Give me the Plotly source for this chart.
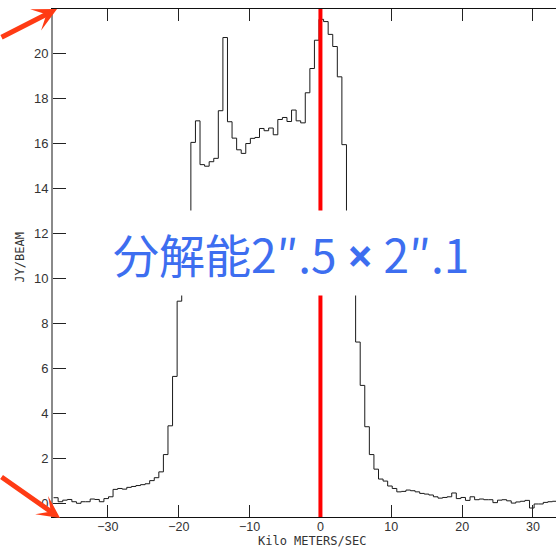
import numpy as np
import plotly.graph_objects as go

# Spectral axis: first channel edge and channel width (km/s)
V_START = -37.67
CHAN_WIDTH = 0.646
V_SYS = 0.0  # systemic velocity marker

# Flux density per channel (Jy/beam)
flux = [
    0.24, 0.06, 0.13, 0.16, 0.06, -0.01, 0.06, 0.06, 0.18, 0.16,
    0.06, 0.20, 0.28, 0.61, 0.65, 0.62, 0.70, 0.74, 0.78, 0.82,
    0.86, 1.00, 1.13, 1.39, 2.16, 3.44, 5.64, 8.99, 10.9, 12.9,
    16.06, 17.02, 15.07, 15.00, 15.20, 15.35, 17.47, 20.73, 16.98, 16.25,
    15.73, 15.57, 16.01, 16.24, 16.28, 16.68, 16.58, 16.70, 16.40, 17.08,
    17.17, 16.99, 17.50, 17.02, 16.93, 18.27, 19.35, 20.61, 21.54, 21.44,
    20.87, 20.33, 18.98, 15.96, 12.0, 10.2, 7.17, 5.24, 3.40, 2.16,
    1.51, 1.07, 0.98, 0.76, 0.65, 0.50, 0.52, 0.58, 0.55, 0.50,
    0.43, 0.40, 0.36, 0.28, 0.22, 0.25, 0.28, 0.45, 0.20, 0.25,
    0.12, 0.28, 0.15, 0.18, 0.15, 0.15, 0.02, 0.13, 0.15, 0.10,
    0.00, 0.05, 0.08, 0.12, -0.22, -0.04, -0.04, 0.03, 0.06, 0.08,
    0.10,
]

x_ticks = [-30, -20, -10, 0, 10, 20, 30]
y_ticks = [0, 2, 4, 6, 8, 10, 12, 14, 16, 18, 20]

x_title = "Kilo METERS/SEC"
y_title = "JY/BEAM"

# Beam size label; the multiplication sign is set in a bolder Latin face
label_text = ('分解能2″.5 <span style="font-family:Noto Sans"><b>×</b></span> 2″.1')

# Step outline: left channel edges plus the closing edge of the last channel
edges = V_START + CHAN_WIDTH * np.arange(len(flux) + 1)
steps = list(flux) + [flux[-1]]

fig = go.Figure()
fig.add_trace(go.Scatter(
    x=edges, y=steps, mode="lines",
    line=dict(shape="hv", color="#1a1a1a", width=1),
    showlegend=False, hoverinfo="skip",
))

# Systemic velocity marker
fig.add_shape(
    type="line", xref="x", yref="paper",
    x0=V_SYS, x1=V_SYS, y0=0, y1=1,
    line=dict(color="#FF0000", width=4), layer="above",
)

# Resolution label on a white box
fig.add_annotation(
    xref="paper", yref="paper", x=0.474, y=0.52,
    text=label_text, showarrow=False,
    font=dict(family="Noto Sans CJK JP", size=46, color="#3D6EF0"),
    bgcolor="white", borderpad=9,
    xanchor="center", yanchor="middle",
)

# Axis titles
title_font = dict(family="DejaVu Sans Mono", size=12, color="#333333")
fig.add_annotation(
    xref="paper", yref="paper", x=0.514, y=-0.0465,
    text=x_title, showarrow=False, font=title_font,
    xanchor="center", yanchor="middle",
)
fig.add_annotation(
    xref="paper", yref="paper", x=-0.066, y=0.512,
    text=y_title, showarrow=False, font=title_font, textangle=-90,
    xanchor="center", yanchor="middle",
)

# Corner arrows
arrow_color = "#FF3B14"
fig.add_annotation(
    xref="paper", yref="paper", x=0.008, y=1.0,
    axref="pixel", ayref="pixel", ax=-57, ay=29,
    text="", showarrow=True, arrowhead=3, arrowsize=0.8,
    arrowwidth=5, arrowcolor=arrow_color,
)
fig.add_annotation(
    xref="paper", yref="paper", x=0.014, y=-0.002,
    axref="pixel", ayref="pixel", ax=-60, ay=-42,
    text="", showarrow=True, arrowhead=3, arrowsize=0.75,
    arrowwidth=5, arrowcolor=arrow_color,
)

tick_font = dict(family="Liberation Sans", size=13, color="#333333")
xtick_font = dict(family="Liberation Sans", size=12.5, color="#333333")

fig.update_layout(
    width=556, height=548,
    margin=dict(l=53, r=0, t=9, b=31),
    paper_bgcolor="white", plot_bgcolor="white",
    xaxis=dict(
        range=[-37.75, 33.25], tickvals=x_ticks,
        ticks="inside", ticklen=12, tickwidth=1, tickcolor="#222222",
        showline=True, linecolor="#111111", linewidth=1, mirror="ticks",
        showgrid=False, zeroline=False, tickfont=xtick_font,
        ticklabelstandoff=-2,
    ),
    yaxis=dict(
        range=[-0.62, 22.0], tickvals=y_ticks,
        ticks="inside", ticklen=13, tickwidth=1, tickcolor="#222222",
        showline=True, linecolor="#8a8a8a", linewidth=2,
        showgrid=False, zeroline=False, tickfont=tick_font,
    ),
    yaxis2=dict(
        matches="y", overlaying="y", side="right", tickvals=y_ticks,
        ticks="inside", ticklen=8, tickwidth=1, tickcolor="#222222",
        showticklabels=False, showline=False, showgrid=False, zeroline=False,
    ),
)

fig.write_html("out.html")
